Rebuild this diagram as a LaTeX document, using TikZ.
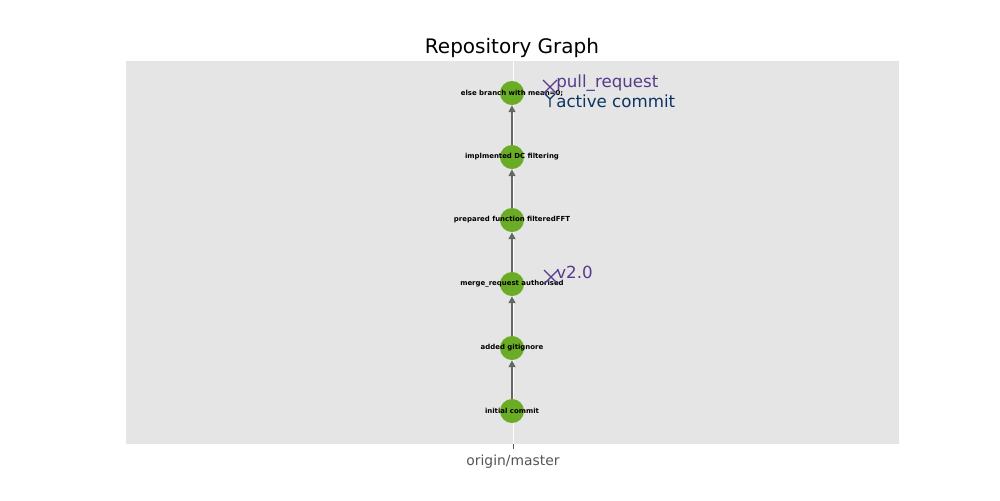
\documentclass[tikz,border=0pt]{standalone}
\usepackage{fontspec}
\setmainfont{DejaVu Sans}
\usetikzlibrary{arrows.meta}
\definecolor{axbg}{HTML}{E5E5E5}
\definecolor{commitgreen}{RGB}{106,172,38}
\definecolor{tagpurple}{RGB}{86,58,140}
\definecolor{activeblue}{RGB}{10,52,98}
\definecolor{ticklbl}{HTML}{555555}
\definecolor{arrgray}{HTML}{666666}
\tikzset{
  commit/.style={circle, fill=commitgreen, draw=none, minimum size=17.3pt, inner sep=0pt},
  clabel/.style={font=\fontsize{5}{6}\selectfont\bfseries, text=black, inner sep=0pt},
  arr/.style={draw=arrgray, line width=1.1pt, -{Triangle[length=5pt,width=5pt]}},
  xmark/.style={draw=tagpurple, line width=0.9pt},
  ymark/.style={draw=activeblue, line width=0.9pt},
  taglbl/.style={font=\fontsize{12}{14}\selectfont, text=tagpurple, inner sep=0pt, anchor=base west},
  actlbl/.style={font=\fontsize{12}{14}\selectfont, text=activeblue, inner sep=0pt, anchor=base west},
}
\begin{document}
\begin{tikzpicture}[x=0.72pt, y=-0.72pt]
\useasboundingbox (0,0) rectangle (1000,500);
\fill[white] (0,0) rectangle (1000,500);
% axes
\fill[axbg] (126,61) rectangle (899,444);
\draw[white, line width=0.6pt] (513,61) -- (513,444);
\draw[ticklbl, line width=0.6pt] (513,444) -- (513,449);
\node[font=\fontsize{10}{12}\selectfont, text=ticklbl, anchor=base, inner sep=0pt] (tick) at (513,465) {origin/master};
\node[font=\fontsize{14.4}{17}\selectfont, anchor=base, inner sep=0pt] (title) at (512,53) {Repository Graph};
% commits
\node[commit, label={[clabel]center:initial commit}] (c1) at (512,411) {};
\node[commit, label={[clabel]center:added gitignore}] (c2) at (512,348) {};
\node[commit, label={[clabel]center:merge\_request authorised}] (c3) at (512,284) {};
\node[commit, label={[clabel]center:prepared function filteredFFT}] (c4) at (512,220) {};
\node[commit, label={[clabel]center:implmented DC filtering}] (c5) at (512,157) {};
\node[commit, label={[clabel]center:else branch with mean=0;}] (c6) at (512,93) {};
% connectors
\draw[arr] (c1) -- (c2);
\draw[arr] (c2) -- (c3);
\draw[arr] (c3) -- (c4);
\draw[arr] (c4) -- (c5);
\draw[arr] (c5) -- (c6);
% markers
\coordinate (mpr) at (550,87);
\coordinate (mac) at (550,99);
\coordinate (mv2) at (551,277);
\draw[xmark, shift={(mpr)}] (-7,-7) -- (7,7) (-7,7) -- (7,-7);
\draw[ymark, shift={(mac)}] (0,0) -- (-5,-5) (0,0) -- (5,-5) (0,0) -- (0,8);
\draw[xmark, shift={(mv2)}] (-7,-7) -- (7,7) (-7,7) -- (7,-7);
\node[taglbl] (pr) at (556,87) {pull\_request};
\node[actlbl] (ac) at (556,107) {active commit};
\node[taglbl] (v2) at (556,278) {v2.0};
\end{tikzpicture}
\end{document}
